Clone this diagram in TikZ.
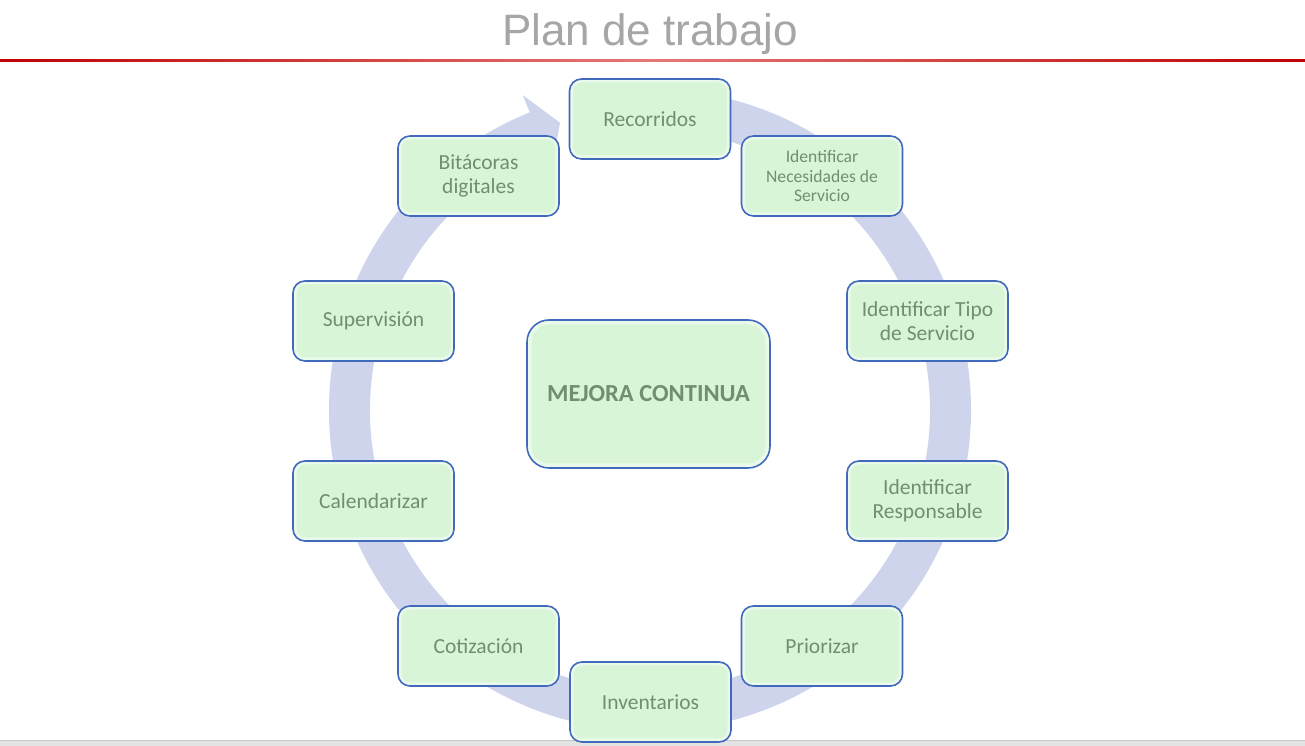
\documentclass[tikz,border=0pt]{standalone}
\usepackage{fontspec}
\setmainfont{Carlito}
\newfontfamily\titlefont{Liberation Sans}
\definecolor{ringc}{RGB}{206,212,235}
\definecolor{boxfill}{RGB}{216,245,216}
\definecolor{boxglow}{RGB}{234,250,234}
\definecolor{boxline}{RGB}{66,106,188}
\definecolor{txtc}{RGB}{112,142,112}
\definecolor{titlec}{RGB}{166,166,166}
\definecolor{redline}{RGB}{192,0,0}
\definecolor{redmid}{RGB}{230,120,120}
\tikzset{
  stagebox/.style={rounded corners=12pt, minimum width=161pt, minimum height=80pt,
    inner sep=0pt, fill=boxfill, draw=boxline, line width=1.6pt, align=center,
    text=txtc, font=\fontsize{21.5}{24}\selectfont,
    path picture={\draw[boxglow, line width=7pt, rounded corners=12pt]
      (path picture bounding box.south west) rectangle (path picture bounding box.north east);}},
  smallbox/.style={stagebox, font=\fontsize{17.6}{19.5}\selectfont},
  centerbox/.style={stagebox, minimum width=243pt, minimum height=148pt, rounded corners=22pt,
    font=\bfseries\fontsize{24.5}{28}\selectfont,
    path picture={\draw[boxglow, line width=9pt, rounded corners=22pt]
      (path picture bounding box.south west) rectangle (path picture bounding box.north east);}}
}
\begin{document}
\begin{tikzpicture}[x=1pt,y=1pt]
\useasboundingbox (0,0) rectangle (1305,746);
\fill[white] (0,0) rectangle (1305,746);
% bottom bar
\fill[black!11] (0,0) rectangle (1305,5);
\draw[black!22, line width=1pt] (0,5) -- (1305,5);
% title
\node[anchor=base, text=titlec, font=\titlefont\fontsize{44}{50}\selectfont, inner sep=0pt] (title) at (650,700) {Plan de trabajo};
\shade[left color=redline, right color=redline, middle color=redmid] (0,684) rectangle (1305,686.2);
% circular arrow
\begin{scope}[shift={(650,336)}]
\fill[ringc] (88:321) arc[start angle=88, end angle=-248, radius=321]
  -- (112:339.6) -- (107.4:301) -- (112:261.4) -- (112:280)
  arc[start angle=-248, end angle=88, radius=280] -- cycle;
\end{scope}
% boxes
\node[stagebox] (recorridos) at (650,627) {Recorridos};
\node[smallbox] (necesidades) at (822,570) {Identificar\\Necesidades de\\Servicio};
\node[stagebox] (tipo) at (927.5,425) {Identificar Tipo\\de Servicio};
\node[stagebox] (responsable) at (927.5,245) {Identificar\\Responsable};
\node[stagebox] (priorizar) at (822,100) {Priorizar};
\node[stagebox] (inventarios) at (650.5,44) {Inventarios};
\node[stagebox] (cotizacion) at (478.5,100) {Cotización};
\node[stagebox] (calendarizar) at (373.5,245) {Calendarizar};
\node[stagebox] (supervision) at (373.5,425) {Supervisión};
\node[stagebox] (bitacoras) at (478.5,570) {Bitácoras\\digitales};
\node[centerbox] (mejora) at (648.5,352) {MEJORA CONTINUA};
\end{tikzpicture}
\end{document}
